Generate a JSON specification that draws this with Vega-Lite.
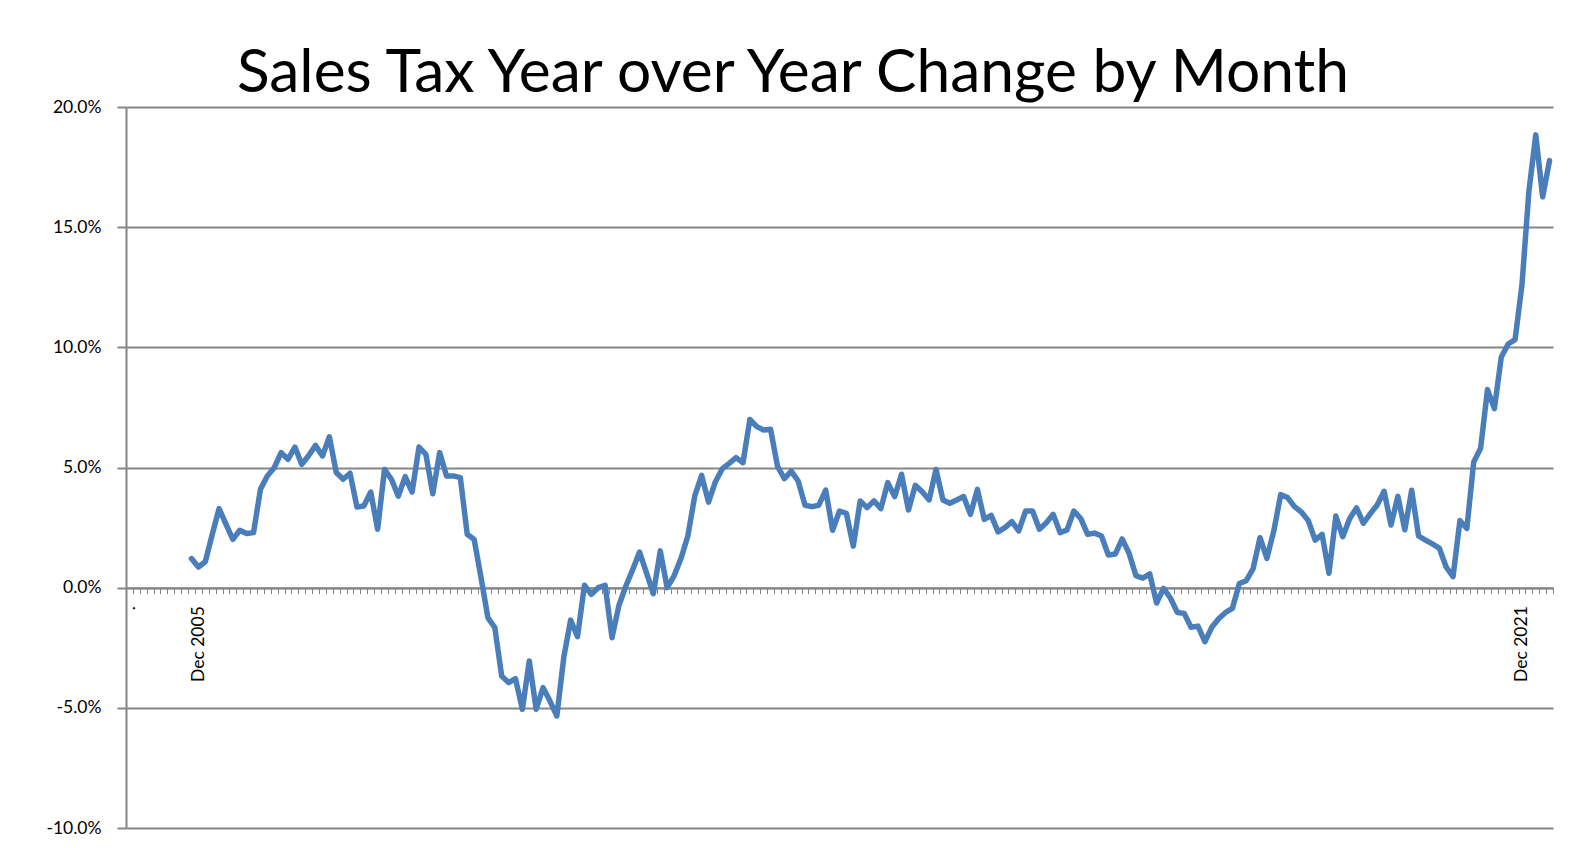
{
  "$schema": "https://vega.github.io/schema/vega-lite/v6.json",
  "width": 1427,
  "height": 721,
  "autosize": {"type": "none"},
  "padding": {"left": 126, "top": 107, "right": 36, "bottom": 20},
  "background": "white",
  "title": {
    "text": "Sales Tax Year over Year Change by Month",
    "font": "Lato",
    "fontSize": 60.5,
    "fontWeight": "normal",
    "color": "#000000",
    "anchor": "middle",
    "frame": "bounds",
    "baseline": "alphabetic",
    "offset": 8,
    "dy": 62,
    "dx": -9
  },
  "data": {
    "values": [
      {"month": "2005-11", "value": 1.21}, {"month": "2005-12", "value": 0.86},
      {"month": "2006-01", "value": 1.08}, {"month": "2006-02", "value": 2.2}, {"month": "2006-03", "value": 3.29}, {"month": "2006-04", "value": 2.64}, {"month": "2006-05", "value": 2.01}, {"month": "2006-06", "value": 2.39}, {"month": "2006-07", "value": 2.25}, {"month": "2006-08", "value": 2.29}, {"month": "2006-09", "value": 4.09}, {"month": "2006-10", "value": 4.65}, {"month": "2006-11", "value": 4.99}, {"month": "2006-12", "value": 5.62},
      {"month": "2007-01", "value": 5.34}, {"month": "2007-02", "value": 5.85}, {"month": "2007-03", "value": 5.13}, {"month": "2007-04", "value": 5.5}, {"month": "2007-05", "value": 5.92}, {"month": "2007-06", "value": 5.48}, {"month": "2007-07", "value": 6.28}, {"month": "2007-08", "value": 4.79}, {"month": "2007-09", "value": 4.51}, {"month": "2007-10", "value": 4.76}, {"month": "2007-11", "value": 3.36}, {"month": "2007-12", "value": 3.4},
      {"month": "2008-01", "value": 3.98}, {"month": "2008-02", "value": 2.43}, {"month": "2008-03", "value": 4.92}, {"month": "2008-04", "value": 4.51}, {"month": "2008-05", "value": 3.81}, {"month": "2008-06", "value": 4.62}, {"month": "2008-07", "value": 3.98}, {"month": "2008-08", "value": 5.85}, {"month": "2008-09", "value": 5.55}, {"month": "2008-10", "value": 3.91}, {"month": "2008-11", "value": 5.62}, {"month": "2008-12", "value": 4.65},
      {"month": "2009-01", "value": 4.65}, {"month": "2009-02", "value": 4.58}, {"month": "2009-03", "value": 2.22}, {"month": "2009-04", "value": 2.01}, {"month": "2009-05", "value": 0.42}, {"month": "2009-06", "value": -1.25}, {"month": "2009-07", "value": -1.66}, {"month": "2009-08", "value": -3.68}, {"month": "2009-09", "value": -3.95}, {"month": "2009-10", "value": -3.79}, {"month": "2009-11", "value": -5.06}, {"month": "2009-12", "value": -3.05},
      {"month": "2010-01", "value": -5.06}, {"month": "2010-02", "value": -4.16}, {"month": "2010-03", "value": -4.72}, {"month": "2010-04", "value": -5.34}, {"month": "2010-05", "value": -2.91}, {"month": "2010-06", "value": -1.35}, {"month": "2010-07", "value": -2.04}, {"month": "2010-08", "value": 0.1}, {"month": "2010-09", "value": -0.28}, {"month": "2010-10", "value": 0.0}, {"month": "2010-11", "value": 0.1}, {"month": "2010-12", "value": -2.08},
      {"month": "2011-01", "value": -0.74}, {"month": "2011-02", "value": 0.06}, {"month": "2011-03", "value": 0.75}, {"month": "2011-04", "value": 1.48}, {"month": "2011-05", "value": 0.62}, {"month": "2011-06", "value": -0.25}, {"month": "2011-07", "value": 1.53}, {"month": "2011-08", "value": 0.0}, {"month": "2011-09", "value": 0.49}, {"month": "2011-10", "value": 1.21}, {"month": "2011-11", "value": 2.15}, {"month": "2011-12", "value": 3.81},
      {"month": "2012-01", "value": 4.67}, {"month": "2012-02", "value": 3.56}, {"month": "2012-03", "value": 4.41}, {"month": "2012-04", "value": 4.95}, {"month": "2012-05", "value": 5.17}, {"month": "2012-06", "value": 5.41}, {"month": "2012-07", "value": 5.2}, {"month": "2012-08", "value": 7.0}, {"month": "2012-09", "value": 6.7}, {"month": "2012-10", "value": 6.56}, {"month": "2012-11", "value": 6.59}, {"month": "2012-12", "value": 5.06},
      {"month": "2013-01", "value": 4.54}, {"month": "2013-02", "value": 4.85}, {"month": "2013-03", "value": 4.44}, {"month": "2013-04", "value": 3.43}, {"month": "2013-05", "value": 3.37}, {"month": "2013-06", "value": 3.43}, {"month": "2013-07", "value": 4.06}, {"month": "2013-08", "value": 2.39}, {"month": "2013-09", "value": 3.19}, {"month": "2013-10", "value": 3.09}, {"month": "2013-11", "value": 1.73}, {"month": "2013-12", "value": 3.61},
      {"month": "2014-01", "value": 3.33}, {"month": "2014-02", "value": 3.61}, {"month": "2014-03", "value": 3.29}, {"month": "2014-04", "value": 4.37}, {"month": "2014-05", "value": 3.79}, {"month": "2014-06", "value": 4.72}, {"month": "2014-07", "value": 3.23}, {"month": "2014-08", "value": 4.26}, {"month": "2014-09", "value": 3.99}, {"month": "2014-10", "value": 3.65}, {"month": "2014-11", "value": 4.92}, {"month": "2014-12", "value": 3.65},
      {"month": "2015-01", "value": 3.51}, {"month": "2015-02", "value": 3.65}, {"month": "2015-03", "value": 3.79}, {"month": "2015-04", "value": 3.05}, {"month": "2015-05", "value": 4.09}, {"month": "2015-06", "value": 2.84}, {"month": "2015-07", "value": 3.01}, {"month": "2015-08", "value": 2.32}, {"month": "2015-09", "value": 2.5}, {"month": "2015-10", "value": 2.75}, {"month": "2015-11", "value": 2.36}, {"month": "2015-12", "value": 3.19},
      {"month": "2016-01", "value": 3.19}, {"month": "2016-02", "value": 2.43}, {"month": "2016-03", "value": 2.7}, {"month": "2016-04", "value": 3.05}, {"month": "2016-05", "value": 2.29}, {"month": "2016-06", "value": 2.4}, {"month": "2016-07", "value": 3.19}, {"month": "2016-08", "value": 2.87}, {"month": "2016-09", "value": 2.22}, {"month": "2016-10", "value": 2.27}, {"month": "2016-11", "value": 2.15}, {"month": "2016-12", "value": 1.36},
      {"month": "2017-01", "value": 1.4}, {"month": "2017-02", "value": 2.03}, {"month": "2017-03", "value": 1.43}, {"month": "2017-04", "value": 0.5}, {"month": "2017-05", "value": 0.4}, {"month": "2017-06", "value": 0.57}, {"month": "2017-07", "value": -0.64}, {"month": "2017-08", "value": -0.03}, {"month": "2017-09", "value": -0.43}, {"month": "2017-10", "value": -1.03}, {"month": "2017-11", "value": -1.07}, {"month": "2017-12", "value": -1.65},
      {"month": "2018-01", "value": -1.6}, {"month": "2018-02", "value": -2.25}, {"month": "2018-03", "value": -1.65}, {"month": "2018-04", "value": -1.29}, {"month": "2018-05", "value": -1.03}, {"month": "2018-06", "value": -0.86}, {"month": "2018-07", "value": 0.17}, {"month": "2018-08", "value": 0.29}, {"month": "2018-09", "value": 0.79}, {"month": "2018-10", "value": 2.08}, {"month": "2018-11", "value": 1.22}, {"month": "2018-12", "value": 2.36},
      {"month": "2019-01", "value": 3.87}, {"month": "2019-02", "value": 3.75}, {"month": "2019-03", "value": 3.37}, {"month": "2019-04", "value": 3.15}, {"month": "2019-05", "value": 2.79}, {"month": "2019-06", "value": 1.98}, {"month": "2019-07", "value": 2.22}, {"month": "2019-08", "value": 0.6}, {"month": "2019-09", "value": 2.98}, {"month": "2019-10", "value": 2.12}, {"month": "2019-11", "value": 2.87}, {"month": "2019-12", "value": 3.32},
      {"month": "2020-01", "value": 2.68}, {"month": "2020-02", "value": 3.08}, {"month": "2020-03", "value": 3.44}, {"month": "2020-04", "value": 4.01}, {"month": "2020-05", "value": 2.61}, {"month": "2020-06", "value": 3.8}, {"month": "2020-07", "value": 2.41}, {"month": "2020-08", "value": 4.05}, {"month": "2020-09", "value": 2.15}, {"month": "2020-10", "value": 1.98}, {"month": "2020-11", "value": 1.82}, {"month": "2020-12", "value": 1.65},
      {"month": "2021-01", "value": 0.86}, {"month": "2021-02", "value": 0.46}, {"month": "2021-03", "value": 2.79}, {"month": "2021-04", "value": 2.46}, {"month": "2021-05", "value": 5.23}, {"month": "2021-06", "value": 5.8}, {"month": "2021-07", "value": 8.24}, {"month": "2021-08", "value": 7.45}, {"month": "2021-09", "value": 9.6}, {"month": "2021-10", "value": 10.14}, {"month": "2021-11", "value": 10.32}, {"month": "2021-12", "value": 12.61},
      {"month": "2022-01", "value": 16.48}, {"month": "2022-02", "value": 18.84}, {"month": "2022-03", "value": 16.26}, {"month": "2022-04", "value": 17.77}
    ]
  },
  "mark": {"type": "line", "color": "#4a7ebb", "strokeWidth": 5.5, "strokeJoin": "round", "strokeCap": "round"},
  "encoding": {
    "x": {
      "field": "month",
      "type": "ordinal",
      "bandPosition": 0.5,
      "scale": {
        "type": "band",
        "paddingInner": 0,
        "paddingOuter": 0,
        "domain": [
          "2005-02","2005-03","2005-04","2005-05","2005-06","2005-07","2005-08","2005-09","2005-10","2005-11","2005-12",
          "2006-01","2006-02","2006-03","2006-04","2006-05","2006-06","2006-07","2006-08","2006-09","2006-10","2006-11","2006-12",
          "2007-01","2007-02","2007-03","2007-04","2007-05","2007-06","2007-07","2007-08","2007-09","2007-10","2007-11","2007-12",
          "2008-01","2008-02","2008-03","2008-04","2008-05","2008-06","2008-07","2008-08","2008-09","2008-10","2008-11","2008-12",
          "2009-01","2009-02","2009-03","2009-04","2009-05","2009-06","2009-07","2009-08","2009-09","2009-10","2009-11","2009-12",
          "2010-01","2010-02","2010-03","2010-04","2010-05","2010-06","2010-07","2010-08","2010-09","2010-10","2010-11","2010-12",
          "2011-01","2011-02","2011-03","2011-04","2011-05","2011-06","2011-07","2011-08","2011-09","2011-10","2011-11","2011-12",
          "2012-01","2012-02","2012-03","2012-04","2012-05","2012-06","2012-07","2012-08","2012-09","2012-10","2012-11","2012-12",
          "2013-01","2013-02","2013-03","2013-04","2013-05","2013-06","2013-07","2013-08","2013-09","2013-10","2013-11","2013-12",
          "2014-01","2014-02","2014-03","2014-04","2014-05","2014-06","2014-07","2014-08","2014-09","2014-10","2014-11","2014-12",
          "2015-01","2015-02","2015-03","2015-04","2015-05","2015-06","2015-07","2015-08","2015-09","2015-10","2015-11","2015-12",
          "2016-01","2016-02","2016-03","2016-04","2016-05","2016-06","2016-07","2016-08","2016-09","2016-10","2016-11","2016-12",
          "2017-01","2017-02","2017-03","2017-04","2017-05","2017-06","2017-07","2017-08","2017-09","2017-10","2017-11","2017-12",
          "2018-01","2018-02","2018-03","2018-04","2018-05","2018-06","2018-07","2018-08","2018-09","2018-10","2018-11","2018-12",
          "2019-01","2019-02","2019-03","2019-04","2019-05","2019-06","2019-07","2019-08","2019-09","2019-10","2019-11","2019-12",
          "2020-01","2020-02","2020-03","2020-04","2020-05","2020-06","2020-07","2020-08","2020-09","2020-10","2020-11","2020-12",
          "2021-01","2021-02","2021-03","2021-04","2021-05","2021-06","2021-07","2021-08","2021-09","2021-10","2021-11","2021-12",
          "2022-01","2022-02","2022-03","2022-04"
        ]
      },
      "axis": {
        "title": null,
        "orient": "bottom",
        "offset": -240.33,
        "grid": false,
        "domainColor": "#868686",
        "domainWidth": 2,
        "tickColor": "#868686",
        "tickWidth": 1,
        "tickSize": 6,
        "tickBand": "extent",
        "labelAngle": -90,
        "labelAlign": "right",
        "labelBaseline": "middle",
        "labelPadding": 12,
        "labelFont": "Lato",
        "labelFontSize": 17.5,
        "labelColor": "#000000",
        "labelOverlap": false,
        "labelBound": false,
        "labelFlush": false,
        "labelExpr": "datum.value == '2005-12' ? 'Dec 2005' : datum.value == '2021-12' ? 'Dec 2021' : datum.value == '2005-02' ? '.' : ''"
      }
    },
    "y": {
      "field": "value",
      "type": "quantitative",
      "scale": {"domain": [-10, 20], "nice": false, "zero": false},
      "axis": {
        "title": null,
        "values": [-10, -5, 0, 5, 10, 15, 20],
        "grid": true,
        "gridColor": "#868686",
        "gridWidth": 2,
        "domainColor": "#868686",
        "domainWidth": 2,
        "tickColor": "#868686",
        "tickWidth": 2,
        "tickSize": 9,
        "labelPadding": 16,
        "labelFont": "Lato",
        "labelFontSize": 17.5,
        "labelColor": "#000000",
        "labelExpr": "(datum.value < 0 ? '-' : '') + format(abs(datum.value), '.1f') + '%'"
      }
    }
  },
  "config": {"view": {"stroke": null}}
}
